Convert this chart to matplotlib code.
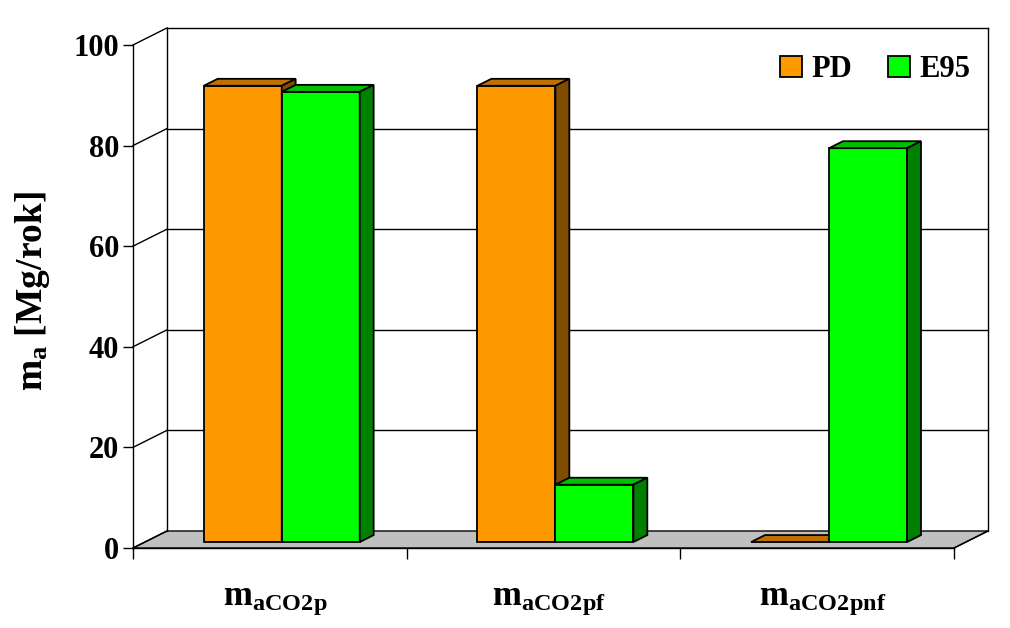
"""
Pseudo-3D bar chart of annual CO2 mass for PD and E95 fuels.
"""
import matplotlib
matplotlib.use('Agg')
import matplotlib.pyplot as plt
from matplotlib.patches import Polygon, Patch
import numpy as np

categories = [r'$\mathbf{m}_{\mathbf{aCO2p}}$',
              r'$\mathbf{m}_{\mathbf{aCO2pf}}$',
              r'$\mathbf{m}_{\mathbf{aCO2pnf}}$']
series_names = ['PD', 'E95']
pd_values = [90.7, 90.7, 0.0]
e95_values = [89.5, 11.4, 78.3]
y_ticks = [0, 20, 40, 60, 80, 100]

# colours: front, top, side
colours = {
    'PD': ('#ff9900', '#c07000', '#7f4c00'),
    'E95': ('#00ff00', '#00c000', '#008000'),
}
floor_colour = '#c0c0c0'

# depth of the scene in data units (x, y) and bar placement in depth
depth_x = 0.124
depth_y = 3.38
bar_front = 0.35
bar_depth = 0.41
bar_width = 0.285

plt.rcParams['font.family'] = ['Liberation Serif']
plt.rcParams['font.weight'] = 'bold'
plt.rcParams['mathtext.fontset'] = 'custom'
plt.rcParams['mathtext.rm'] = 'Liberation Serif:bold'
plt.rcParams['mathtext.bf'] = 'Liberation Serif:bold'
plt.rcParams['mathtext.it'] = 'Liberation Serif:bold'

fig = plt.figure(figsize=(10.1, 6.28), dpi=100)
ax = fig.add_axes([0.1317, 0.1274, 0.8129, 0.8010])
n = len(categories)
ax.set_xlim(0, n)
ax.set_ylim(0, 100)

line_kw = dict(color='black', lw=1.0, clip_on=False)

# floor
floor = Polygon([(0, 0), (n, 0), (n + depth_x, depth_y), (depth_x, depth_y)],
                closed=True, facecolor=floor_colour, edgecolor='black',
                lw=1.0, clip_on=False, zorder=1)
ax.add_patch(floor)

# back wall grid and connectors to the front axis
for tick in y_ticks[1:]:
    ax.plot([depth_x, n + depth_x], [tick + depth_y, tick + depth_y],
            zorder=1, **line_kw)
for tick in y_ticks:
    ax.plot([0, depth_x], [tick, tick + depth_y], zorder=1, **line_kw)
ax.plot([depth_x, depth_x], [depth_y, 100 + depth_y], zorder=1, **line_kw)
ax.plot([n + depth_x, n + depth_x], [depth_y, 100 + depth_y], zorder=1,
        **line_kw)
ax.plot([n, n + depth_x], [0, depth_y], zorder=1, **line_kw)

# bars
off_x = bar_front * depth_x
off_y = bar_front * depth_y
bx = bar_depth * depth_x
by = bar_depth * depth_y
z = 3
for i in range(n):
    for j, (name, values) in enumerate(zip(series_names,
                                           [pd_values, e95_values])):
        front, top, side = colours[name]
        left = i + 0.5 - bar_width + j * bar_width + off_x
        value = values[i]
        if value > 0:
            ax.bar(left, value, width=bar_width, bottom=off_y, align='edge',
                   color=front, edgecolor='black', lw=1.3, zorder=z)
        y_top = off_y + value
        ax.add_patch(Polygon([(left, y_top), (left + bar_width, y_top),
                              (left + bar_width + bx, y_top + by),
                              (left + bx, y_top + by)],
                             closed=True, facecolor=top, edgecolor='black',
                             lw=1.3, zorder=z + 0.1, clip_on=False))
        if value > 0:
            right = left + bar_width
            ax.add_patch(Polygon([(right, off_y), (right + bx, off_y + by),
                                  (right + bx, y_top + by), (right, y_top)],
                                 closed=True, facecolor=side,
                                 edgecolor='black', lw=1.3, zorder=z + 0.2,
                                 clip_on=False))
        z += 1

# axes
for spine in ['top', 'right']:
    ax.spines[spine].set_visible(False)
ax.spines['left'].set_linewidth(1.0)
ax.spines['bottom'].set_linewidth(1.0)
ax.spines['left'].set_zorder(2)
ax.spines['bottom'].set_zorder(2)
ax.set_facecolor('none')
ax.set_yticks(y_ticks)
ax.set_yticklabels([str(t) for t in y_ticks], fontsize=22, fontweight='bold')
ax.set_xticks(np.arange(n + 1))
ax.set_xticklabels([''] * (n + 1))
ax.tick_params(axis='y', length=7, width=1.0, pad=3)
ax.tick_params(axis='x', length=8, width=1.0)
for i, label in enumerate(categories):
    ax.text(i + 0.52, -10.5, label, ha='center', va='center', fontsize=25,
            fontweight='bold')

ax.set_ylabel(r'm$_{\mathrm{a}}$ [Mg/rok]', fontsize=27, fontweight='bold')
ax.yaxis.set_label_coords(-0.099, 0.51)

handles = [Patch(facecolor=colours[name][0], edgecolor='black', lw=1.3)
           for name in series_names]
fig.legend(handles, series_names, loc='upper right', ncol=2, frameon=False,
           bbox_to_anchor=(970 / 1010, 1 - 55 / 628),
           prop={'weight': 'bold', 'size': 22},
           handlelength=0.7, handleheight=0.7, handletextpad=0.3,
           columnspacing=1.2, borderpad=0, borderaxespad=0)

fig.savefig('out.png', dpi=100)
